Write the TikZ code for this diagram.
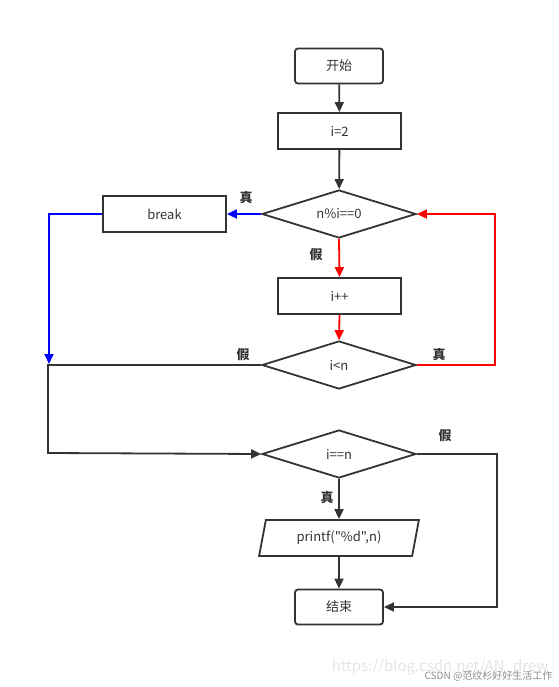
\documentclass[tikz,border=0pt]{standalone}
\usepackage{fontspec}
\setmainfont{Noto Sans CJK SC}[Ligatures=TeXOff]
\usetikzlibrary{shapes.geometric,arrows.meta}
\definecolor{ln}{HTML}{333333}
\definecolor{rd}{HTML}{FF0000}
\definecolor{bl}{HTML}{0000FF}
\begin{document}
\begin{tikzpicture}[x=1pt,y=-1pt,
  base/.style={draw=ln,line width=1.8pt,font=\fontsize{13}{15}\selectfont,text=ln,inner sep=0pt},
  term/.style={base,rounded corners=3pt,minimum width=88pt,minimum height=35pt},
  proc/.style={base,minimum width=123pt,minimum height=36pt},
  dec/.style={base,diamond,shape aspect=3.2,minimum width=154pt,minimum height=48pt},
  io/.style={base,trapezium,trapezium left angle=74,trapezium right angle=106,trapezium stretches=true,minimum width=160pt,minimum height=36pt},
  arr/.style={line width=1.8pt,draw=ln,-{Triangle[length=10pt,width=9pt]}},
  lab/.style={font=\fontsize{13}{15}\selectfont\bfseries,text=ln},
]
\useasboundingbox (0,0) rectangle (558,687);
\node[term] (start) at (339,66) {开始};
\node[proc] (i2) at (339.5,131) {i=2};
\node[dec] (d1) at (339,214) {n\%i==0};
\node[proc] (brk) at (164.5,214) {break};
\node[proc] (inc) at (339.5,296) {i++};
\node[dec] (d2) at (339,365) {i<n};
\node[dec] (d3) at (339,454) {i==n};
\node[io] (pr) at (339,538) {printf(\symbol{34}\%d\symbol{34},n)};
\node[term] (end) at (339,607) {结束};
\coordinate (r1) at (495,365);
\coordinate (b1) at (49,214);
\coordinate (b2) at (49,364);
\coordinate (k1) at (48,453);
\coordinate (k2) at (497,607);

\draw[arr] (start) -- (i2);
\draw[arr] (i2) -- (d1);
\draw[arr,draw=bl,color=bl] (d1.west) -- (brk.east);
\draw[arr,draw=rd,color=rd] (d1.south) -- (inc.north);
\draw[arr,draw=rd,color=rd] (inc.south) -- (d2.north);
\draw[arr,draw=rd,color=rd] (d2.east) -- (r1) |- (d1.east);
\draw[arr,draw=bl,color=bl] (brk.west) -- (b1) -- (b2);
\draw[arr] (d2.west) -| (k1) -- (d3.west);
\draw[arr] (d3.east) -| (k2) -- (end.east);
\draw[arr] (d3.south) -- (pr.north);
\draw[arr] (pr.south) -- (end.north);

\node[lab] (l1) at (246,198) {真};
\node[lab] (l2) at (316,255) {假};
\node[lab] (l3) at (243,355) {假};
\node[lab] (l4) at (439,355) {真};
\node[lab] (l5) at (445,436) {假};
\node[lab] (l6) at (327,498) {真};

\node[anchor=east,text=black!10,font=\fontsize{15}{17}\selectfont] (wm1) at (552,667) {https://blog.csdn.net/AN\_drew};
\node[anchor=east,text=black!45,font=\fontsize{10}{12}\selectfont] (wm2) at (556,676) {CSDN @范纹杉好好生活工作};
\end{tikzpicture}
\end{document}
